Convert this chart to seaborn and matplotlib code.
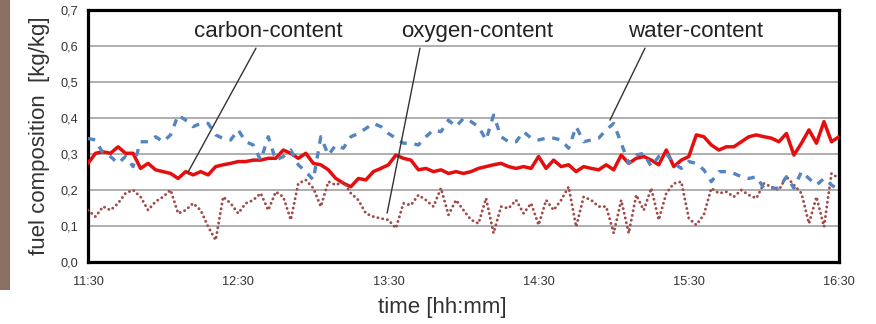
import numpy as np
import pandas as pd
import matplotlib
matplotlib.use("Agg")
import matplotlib.pyplot as plt
import seaborn as sns
from matplotlib.patches import Rectangle

# sampling grid: minutes after 11:30, every 3 minutes
minutes = np.arange(0, 301, 3)

carbon = [0.274, 0.302, 0.306, 0.302, 0.32, 0.302, 0.302, 0.26, 0.274, 0.256, 0.251, 0.246, 0.232, 0.251, 0.242, 0.251, 0.242,
          0.265, 0.27, 0.274, 0.279, 0.279, 0.283, 0.283, 0.288, 0.288, 0.311, 0.302, 0.288, 0.302, 0.274, 0.27, 0.256, 0.232,
          0.219, 0.209, 0.232, 0.228, 0.251, 0.26, 0.27, 0.297, 0.288, 0.283, 0.256, 0.26, 0.251, 0.256, 0.246, 0.251, 0.246,
          0.251, 0.26, 0.265, 0.27, 0.274, 0.265, 0.26, 0.265, 0.26, 0.293, 0.26, 0.283, 0.265, 0.27, 0.251, 0.265,
          0.26, 0.256, 0.27, 0.256, 0.297, 0.274, 0.288, 0.293, 0.283, 0.27, 0.311, 0.265, 0.283, 0.293, 0.353, 0.348, 0.325,
          0.311, 0.32, 0.32, 0.334, 0.348, 0.353, 0.348, 0.344, 0.334, 0.357, 0.297, 0.33, 0.367, 0.33, 0.39, 0.334, 0.348]

water = [0.343, 0.339, 0.302, 0.293, 0.274, 0.293, 0.265, 0.334, 0.334, 0.348, 0.334, 0.353, 0.408, 0.394, 0.376, 0.385, 0.385,
         0.353, 0.343, 0.339, 0.367, 0.334, 0.325, 0.283, 0.348, 0.283, 0.293, 0.311, 0.27, 0.251, 0.228, 0.348, 0.297, 0.325,
         0.316, 0.348, 0.357, 0.371, 0.385, 0.376, 0.357, 0.344, 0.33, 0.33, 0.325, 0.348, 0.367, 0.362, 0.394, 0.376, 0.399,
         0.39, 0.376, 0.339, 0.408, 0.348, 0.334, 0.334, 0.362, 0.344, 0.339, 0.344, 0.344, 0.339, 0.316, 0.376, 0.334,
         0.339, 0.344, 0.367, 0.385, 0.33, 0.274, 0.297, 0.302, 0.265, 0.293, 0.302, 0.274, 0.26, 0.279, 0.274, 0.256, 0.223,
         0.251, 0.251, 0.246, 0.237, 0.232, 0.237, 0.205, 0.205, 0.205, 0.237, 0.205, 0.251, 0.232, 0.214, 0.232, 0.214, 0.2]

oxygen = [0.144, 0.126, 0.154, 0.144, 0.163, 0.191, 0.2, 0.181, 0.144, 0.168, 0.181, 0.2, 0.135, 0.144, 0.163, 0.144, 0.098,
          0.061, 0.181, 0.163, 0.135, 0.163, 0.172, 0.191, 0.144, 0.195, 0.181, 0.117, 0.218, 0.228, 0.205, 0.154, 0.223, 0.214,
          0.223, 0.191, 0.172, 0.135, 0.126, 0.121, 0.117, 0.094, 0.163, 0.158, 0.186, 0.172, 0.154, 0.205, 0.131, 0.172, 0.144,
          0.117, 0.107, 0.177, 0.08, 0.154, 0.149, 0.172, 0.135, 0.163, 0.103, 0.172, 0.144, 0.172, 0.209, 0.098, 0.181,
          0.172, 0.154, 0.154, 0.08, 0.172, 0.08, 0.186, 0.144, 0.205, 0.117, 0.191, 0.218, 0.223, 0.121, 0.103, 0.131, 0.205,
          0.191, 0.195, 0.181, 0.2, 0.186, 0.177, 0.218, 0.209, 0.2, 0.237, 0.214, 0.191, 0.107, 0.181, 0.098, 0.246, 0.232]

xtick_minutes = [0, 60, 120, 180, 240, 300]
xtick_labels = ["11:30", "12:30", "13:30", "14:30", "15:30", "16:30"]
ytick_values = [0.0, 0.1, 0.2, 0.3, 0.4, 0.5, 0.6, 0.7]
ytick_labels = ["0,0", "0,1", "0,2", "0,3", "0,4", "0,5", "0,6", "0,7"]

sns.set_theme(style="white")
plt.rcParams["font.family"] = ["Liberation Sans", "DejaVu Sans"]

df = pd.DataFrame({"minute": minutes, "carbon": carbon, "water": water, "oxygen": oxygen})

fig = plt.figure(figsize=(8.76, 3.24), dpi=100)
fig.patch.set_facecolor("white")
fig.patches.append(Rectangle((0, 1 - 290 / 324), 10 / 876, 290 / 324, transform=fig.transFigure,
                             facecolor="#8d7064", edgecolor="none", zorder=0))
ax = fig.add_axes([88 / 876, 1 - 262 / 324, 751 / 876, 252 / 324])

sns.lineplot(data=df, x="minute", y="carbon", color="#e50d0d", linewidth=2.5, ax=ax, zorder=3)
sns.lineplot(data=df, x="minute", y="oxygen", color="#a04c4a", linewidth=2.1, ax=ax, zorder=3)
sns.lineplot(data=df, x="minute", y="water", color="#5585c0", linewidth=2.4, ax=ax, zorder=4)
lines = ax.get_lines()
lines[1].set_dashes([0.05, 1.6])
lines[1].set_dash_capstyle("round")
lines[2].set_dashes([2.2, 2.3])

ax.set_xlim(0, 300)
ax.set_ylim(0, 0.7)
ax.set_xticks(xtick_minutes)
ax.set_xticklabels(xtick_labels, fontsize=9.2, color="#333333")
ax.set_yticks(ytick_values)
ax.set_yticklabels(ytick_labels, fontsize=9.2, color="#333333")
ax.tick_params(axis="both", which="major", length=4, width=1, color="#999999", direction="out", pad=3)
ax.tick_params(axis="x", pad=6)
ax.grid(axis="y", color="#a8a8a8", linewidth=1.3)
ax.grid(axis="x", visible=False)
ax.set_axisbelow(True)
for s in ax.spines.values():
    s.set_visible(True)
    s.set_color("black")
    s.set_linewidth(2.3)

ax.set_xlabel("time [hh:mm]", fontsize=16, color="#333333")
ax.set_ylabel("fuel composition  [kg/kg]", fontsize=16, color="#333333")
ax.xaxis.set_label_coords((442 - 88) / 751, (262 - 297) / 252)
ax.yaxis.set_label_coords((50 - 88) / 751, 0.5)

labels = [("carbon-content", 71.9, (67.1, 0.594), (40.0, 0.25)),
          ("oxygen-content", 155.4, (132.6, 0.594), (119.5, 0.136)),
          ("water-content", 242.9, (222.5, 0.594), (208.5, 0.394))]
for text, tx, start, end in labels:
    ax.text(tx, 0.639, text, fontsize=16, color="#222222", ha="center", va="center", zorder=6)
    ax.annotate("", xy=end, xytext=start,
                arrowprops=dict(arrowstyle="-", color="#333333", lw=1.0, shrinkA=0, shrinkB=0), zorder=6)

fig.savefig("out.png", dpi=100)
